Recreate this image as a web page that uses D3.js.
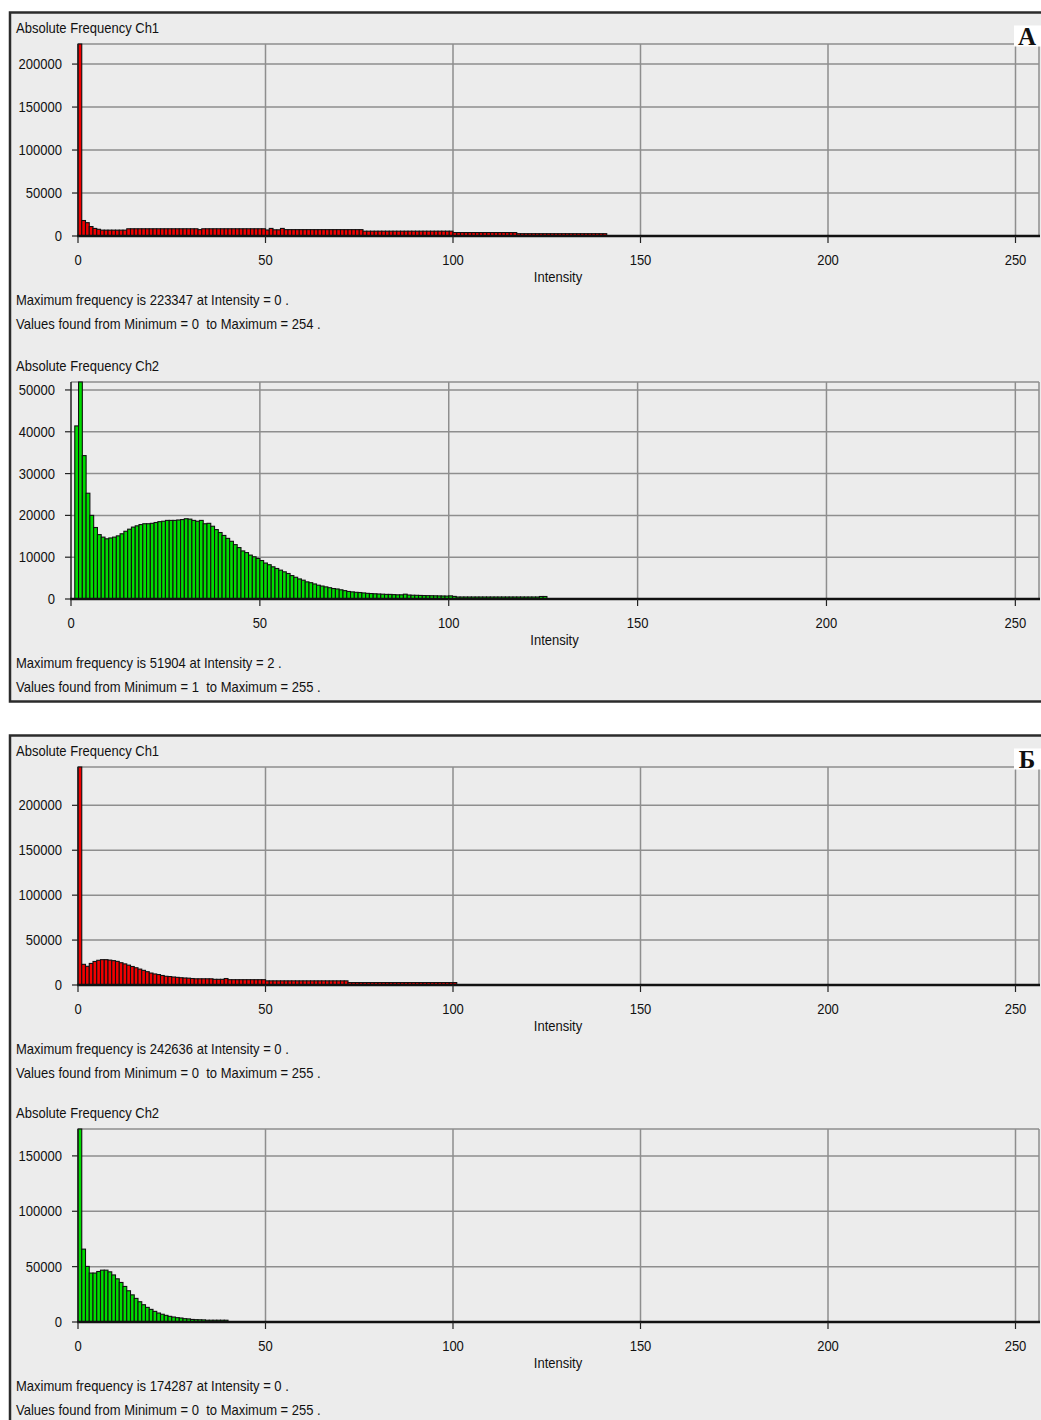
<!DOCTYPE html>
<html>
<head>
<meta charset="utf-8">
<script src="https://cdn.jsdelivr.net/npm/d3@7"></script>
<style>
  body { margin: 0; background: #fff; }
  svg { display: block; }
  text { font-family: "Liberation Sans", Arial, sans-serif; fill: #111; }
</style>
</head>
<body>
<svg id="chart" width="1041" height="1420"></svg>
<script>
// x axis ticks (intensity) shared by every histogram
const intensityTicks = [0, 50, 100, 150, 200, 250];

// y ticks per histogram
const ticksA1 = [0, 50000, 100000, 150000, 200000];
const ticksA2 = [0, 10000, 20000, 30000, 40000, 50000];
const ticksB1 = [0, 50000, 100000, 150000, 200000];
const ticksB2 = [0, 50000, 100000, 150000];

// panel A, channel 1 (red) - counts for intensity 0..255
const countsA1 = [
  223347,18000,15500,11000,8800,7800,6800,6800,6800,6800,6800,6800,6800,8400,8400,8400,
  8400,8400,8400,8400,8400,8400,8400,8400,8400,8400,8400,8400,8400,8400,8400,8400,
  7400,8400,8400,8400,8400,8400,8400,8400,8400,8400,8400,8400,8400,8400,8400,8400,
  8400,8400,7000,8800,7200,7200,8800,7400,7400,7400,7400,7400,7400,7400,7400,7400,
  7400,7400,7400,7400,7400,7400,7400,7400,7400,7400,7400,7400,5600,5600,5600,5600,
  5600,5600,5600,5600,5600,5600,5600,5600,5600,5600,5600,5600,5600,5600,5600,5600,
  5600,5600,5600,5600,4000,4000,4000,4000,4000,4000,4000,4000,4000,4000,4000,4000,
  4000,4000,4000,4000,4000,2700,2700,2700,2700,2700,2700,2700,2700,2700,2700,2700,
  2700,2700,2700,2700,2700,2700,2700,2700,2700,2700,2700,2700,2700,300,300,300,
  300,300,300,300,300,300,300,300,300,300,300,300,300,300,300,300,
  300,300,300,300,300,300,300,300,300,300,300,300,300,300,300,300,
  300,300,300,300,300,300,300,300,300,300,300,300,300,300,300,300,
  300,300,300,300,300,300,300,300,300,300,300,300,300,300,300,300,
  300,300,300,300,300,300,300,300,300,300,300,300,300,300,300,300,
  300,300,300,300,300,300,300,300,300,300,300,300,300,300,300,300,
  300,300,300,300,300,300,300,300,300,300,300,300,300,300,300,0
];

// panel A, channel 2 (green)
const countsA2 = [
  0,41400,51904,34300,25300,20000,17100,15400,14800,14400,14600,14800,15100,15600,16200,16700,
  17200,17500,17800,18000,18000,18100,18300,18500,18600,18800,18800,18800,18900,19000,19200,19100,
  18800,18600,18800,18000,18100,17400,16600,15900,15200,14500,13800,13000,12300,11500,11100,10500,
  10100,9700,9200,8600,8200,7700,7300,6900,6500,6100,5600,5200,4800,4500,4100,3900,
  3600,3300,3100,2900,2700,2500,2400,2200,2000,1800,1700,1600,1550,1450,1350,1300,
  1250,1200,1150,1100,1100,1050,1000,1000,1150,950,900,880,850,820,800,780,
  760,740,720,700,750,620,480,480,480,480,480,480,480,480,480,480,
  480,480,480,480,480,480,480,480,480,480,480,480,600,600,80,80,
  80,80,80,80,80,80,80,80,80,80,80,80,80,80,80,80,
  80,80,80,80,80,80,80,80,80,80,80,80,80,80,80,80,
  80,80,80,80,80,80,80,80,80,80,80,80,80,80,80,80,
  80,80,80,80,80,80,80,80,80,80,80,80,80,80,80,80,
  80,80,80,80,80,80,80,80,80,80,80,80,80,80,80,80,
  80,80,80,80,80,80,80,80,80,80,80,80,80,80,80,80,
  80,80,80,80,80,80,80,80,80,80,80,80,80,80,80,80,
  80,80,80,80,80,80,80,80,80,80,80,80,80,80,80,80
];

// panel Б, channel 1 (red)
const countsB1 = [
  242636,23000,20800,24000,26200,27500,28200,28200,27700,27100,26300,24800,23500,22100,20600,19200,
  17700,16300,14800,13300,12300,11600,10600,9700,9400,8900,8500,8100,7800,7600,7200,6900,
  6900,6900,6900,6900,6300,6300,6300,7200,5900,5900,5900,5900,5900,5900,5900,5900,
  5900,5900,4600,4600,4600,4600,4600,4600,4600,4600,4600,4600,4600,4600,4600,4600,
  4600,4600,4600,4600,4600,4600,4600,4600,2700,2700,2700,2700,2700,2700,2700,2700,
  2700,2700,2700,2700,2700,2700,2700,2700,2700,2700,2700,2700,2700,2700,2700,2700,
  2700,2700,2700,2700,2700,300,300,300,300,300,300,300,300,300,300,300,
  300,300,300,300,300,300,300,300,300,300,300,300,300,300,300,300,
  300,300,300,300,300,300,300,300,300,300,300,300,300,300,300,300,
  300,300,300,300,300,300,300,300,300,300,300,300,300,300,300,300,
  300,300,300,300,300,300,300,300,300,300,300,300,300,300,300,300,
  300,300,300,300,300,300,300,300,300,300,300,300,300,300,300,300,
  300,300,300,300,300,300,300,300,300,300,300,300,300,300,300,300,
  300,300,300,300,300,300,300,300,300,300,300,300,300,300,300,300,
  300,300,300,300,300,300,300,300,300,300,300,300,300,300,300,300,
  300,300,300,300,300,300,300,300,300,300,300,300,300,300,300,300
];

// panel Б, channel 2 (green)
const countsB2 = [
  174287,65800,50200,44200,44200,45600,46800,46800,45300,42500,39000,35700,32100,28200,24500,21300,
  18300,15600,13200,11400,9600,8100,7000,6000,5100,4500,3900,3600,3000,2800,2300,2100,
  2000,1900,1600,1600,1600,1600,1600,1600,40,40,40,40,40,40,40,40,
  40,40,40,40,40,40,40,40,40,40,40,40,40,40,40,40,
  40,40,40,40,40,40,40,40,40,40,40,40,40,40,40,40,
  40,40,40,40,40,40,40,40,40,40,40,40,40,40,40,40,
  40,40,40,40,40,40,40,40,40,40,40,40,40,40,40,40,
  40,40,40,40,40,40,40,40,40,40,40,40,40,40,40,40,
  40,40,40,40,40,40,40,40,40,40,40,40,40,40,40,40,
  40,40,40,40,40,40,40,40,40,40,40,40,40,40,40,40,
  40,40,40,40,40,40,40,40,40,40,40,40,40,40,40,40,
  40,40,40,40,40,40,40,40,40,40,40,40,40,40,40,40,
  40,40,40,40,40,40,40,40,40,40,40,40,40,40,40,40,
  40,40,40,40,40,40,40,40,40,40,40,40,40,40,40,40,
  40,40,40,40,40,40,40,40,40,40,40,40,40,40,40,40,
  40,40,40,40,40,40,40,40,40,40,40,40,40,40,40,40
];

const RED = '#f20000';
const GREEN = '#00dc00';
const plotRight = 1038;

const panels = [
  { label: 'A', top: 12.5, height: 689 },
  { label: 'Б', top: 735.5, height: 720 }
];

const charts = [
  { title: 'Absolute Frequency Ch1', counts: countsA1, ticks: ticksA1, color: RED,   top: 44,   zero: 236, left: 78 },
  { title: 'Absolute Frequency Ch2', counts: countsA2, ticks: ticksA2, color: GREEN, top: 382,  zero: 599, left: 71 },
  { title: 'Absolute Frequency Ch1', counts: countsB1, ticks: ticksB1, color: RED,   top: 767,  zero: 985, left: 78 },
  { title: 'Absolute Frequency Ch2', counts: countsB2, ticks: ticksB2, color: GREEN, top: 1129, zero: 1322, left: 78 }
];

const svg = d3.select('#chart');

// narrow, slightly tall text like the old windows ui font
function label(g, x, y, str, anchor) {
  return g.append('text')
    .attr('transform', `translate(${x},${y}) scale(0.93,1)`)
    .attr('dy', '0.36em')
    .attr('text-anchor', anchor || 'start')
    .style('font-size', '14px')
    .style('white-space', 'pre')
    .text(str);
}

// panel backgrounds + frames
panels.forEach(p => {
  svg.append('rect')
    .attr('x', 10).attr('y', p.top)
    .attr('width', 1060).attr('height', p.height)
    .attr('fill', '#ececec')
    .attr('stroke', '#2b2b2b')
    .attr('stroke-width', 2.5);
});

function drawChart(c) {
  const g = svg.append('g');
  const x = d3.scaleLinear().domain([0, 256]).range([c.left, plotRight]);
  const y = d3.scaleLinear().domain([0, d3.max(c.counts)]).range([c.zero, c.top]);
  const fmt = d3.format('d');

  label(g, 16, c.top - 16, c.title);

  // grid
  const gridColor = '#8e8e8e';
  g.selectAll('.hgrid')
    .data(c.ticks.filter(t => t > 0))
    .enter().append('line')
    .attr('x1', c.left).attr('x2', plotRight + 1)
    .attr('y1', d => y(d)).attr('y2', d => y(d))
    .attr('stroke', gridColor).attr('stroke-width', 1.5);
  g.selectAll('.vgrid')
    .data(intensityTicks.filter(t => t > 0))
    .enter().append('line')
    .attr('x1', d => x(d)).attr('x2', d => x(d))
    .attr('y1', c.top).attr('y2', c.zero)
    .attr('stroke', gridColor).attr('stroke-width', 1.5);
  // frame top / right
  g.append('line')
    .attr('x1', c.left).attr('x2', plotRight + 1)
    .attr('y1', c.top).attr('y2', c.top)
    .attr('stroke', gridColor).attr('stroke-width', 1.5);
  g.append('line')
    .attr('x1', plotRight + 1).attr('x2', plotRight + 1)
    .attr('y1', c.top).attr('y2', c.zero)
    .attr('stroke', gridColor).attr('stroke-width', 1.5);

  // bars
  g.selectAll('.bar')
    .data(c.counts)
    .enter().append('rect')
    .attr('x', (d, i) => x(i))
    .attr('width', (d, i) => x(i + 1) - x(i))
    .attr('y', d => y(d))
    .attr('height', d => c.zero - y(d))
    .attr('fill', c.color)
    .attr('stroke', '#111')
    .attr('stroke-width', 1.1);

  // axes
  g.append('line')
    .attr('x1', c.left).attr('x2', c.left)
    .attr('y1', c.top).attr('y2', c.zero)
    .attr('stroke', '#222').attr('stroke-width', 1.5);
  g.append('line')
    .attr('x1', c.left - 1).attr('x2', plotRight + 2)
    .attr('y1', c.zero).attr('y2', c.zero)
    .attr('stroke', '#111').attr('stroke-width', 2.5);

  // y ticks
  g.selectAll('.ytick')
    .data(c.ticks)
    .enter().append('line')
    .attr('x1', c.left - 6).attr('x2', c.left)
    .attr('y1', d => y(d)).attr('y2', d => y(d))
    .attr('stroke', '#222').attr('stroke-width', 1.2);
  c.ticks.forEach(t => label(g, c.left - 16, y(t), fmt(t), 'end'));

  // x ticks
  g.selectAll('.xtick')
    .data(intensityTicks)
    .enter().append('line')
    .attr('x1', d => x(d)).attr('x2', d => x(d))
    .attr('y1', c.zero).attr('y2', c.zero + 7)
    .attr('stroke', '#222').attr('stroke-width', 1.2);
  intensityTicks.forEach(t => label(g, x(t), c.zero + 24, String(t), 'middle'));

  label(g, (c.left + plotRight) / 2, c.zero + 41, 'Intensity', 'middle');

  // summary lines
  const maxVal = d3.max(c.counts);
  const maxAt = d3.maxIndex(c.counts);
  const nonzero = c.counts.map((d, i) => d > 0 ? i : null).filter(d => d !== null);
  label(g, 16, c.zero + 64, `Maximum frequency is ${maxVal} at Intensity = ${maxAt} .`);
  label(g, 16, c.zero + 87.5, `Values found from Minimum = ${d3.min(nonzero)}  to Maximum = ${d3.max(nonzero)} .`);
}

charts.forEach(drawChart);

// panel letters
panels.forEach(p => {
  svg.append('rect')
    .attr('x', 1014).attr('y', p.top + 13)
    .attr('width', 30).attr('height', 21)
    .attr('fill', '#fff');
  svg.append('text')
    .attr('x', 1027).attr('y', p.top + 32)
    .attr('text-anchor', 'middle')
    .style('font-family', '"Liberation Serif", "Times New Roman", serif')
    .style('font-weight', 'bold')
    .style('font-size', '25px')
    .style('fill', '#111')
    .text(p.label);
});
</script>
</body>
</html>
